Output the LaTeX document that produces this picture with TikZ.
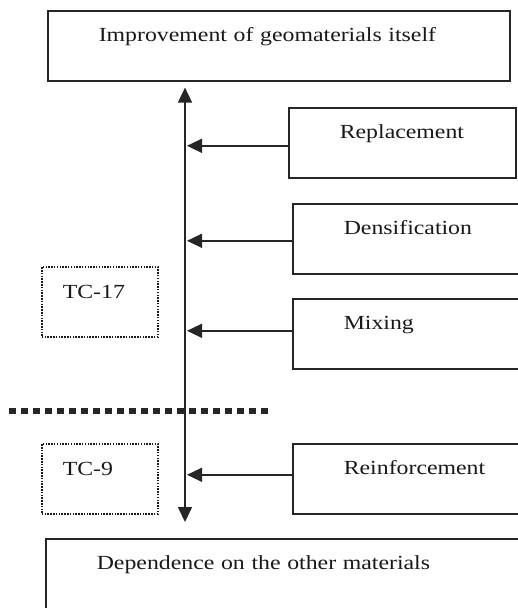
\documentclass[tikz,border=0pt]{standalone}
\usepackage{fontspec}
\setmainfont[FakeStretch=1.19]{Liberation Serif}
\usetikzlibrary{arrows.meta, positioning}

\begin{document}
\begin{tikzpicture}[
    x=1pt, y=-1pt,
    >={Triangle[length=15pt,width=14pt]},
    block/.style={
        rectangle,
        draw=black!85,
        line width=1.6pt,
        anchor=north west,
        inner xsep=51pt,
        inner ysep=0pt,
        align=left,
        text=black!90,
        text height=31pt,
        text depth=39pt,
        font=\fontsize{20}{24}\selectfont
    },
    tcbox/.style={
        block,
        draw=black!90,
        line width=1.6pt,
        dash pattern=on 1.5pt off 1.3pt,
        inner xsep=21pt,
        text height=32pt,
        text depth=38pt
    },
    link/.style={->, line width=1.6pt, draw=black!85}
]

\useasboundingbox (0,0) rectangle (518,608);

\node[block, text width=360pt] (improve) at (47,10) {Improvement of geomaterials itself};

\node[block, text width=125pt] (replace) at (288,107) {Replacement};

\node[block, text width=140pt] (densify) at (292,203) {Densification};

\node[block, text width=140pt] (mixing) at (292,298) {Mixing};

\node[block, text width=150pt] (reinforce) at (292,443) {Reinforcement};

\node[block, text width=400pt] (depend) at (45,538) {Dependence on the other materials};

\node[tcbox, text width=74pt] (tcA) at (41,266) {TC-17};

\node[tcbox, text width=74pt] (tcB) at (41,443) {TC-9};

\coordinate (axis) at (185,0);

\draw[link, <->, shorten <=16pt, shorten >=6pt] (depend.north -| axis) -- (improve.south -| axis);

\draw[link, shorten >=2pt] ([yshift=-3pt]replace.west) -- ([yshift=-3pt]replace.west -| axis);
\draw[link, shorten >=2pt] ([yshift=-2pt]densify.west) -- ([yshift=-2pt]densify.west -| axis);
\draw[link, shorten >=2pt] ([yshift=3pt]mixing.west) -- ([yshift=3pt]mixing.west -| axis);
\draw[link, shorten >=2pt] ([yshift=4pt]reinforce.west) -- ([yshift=4pt]reinforce.west -| axis);

\draw[line width=6.5pt, draw=black!85, dash pattern=on 6.5pt off 5.5pt] (9,411) -- (268,411);

\end{tikzpicture}
\end{document}
